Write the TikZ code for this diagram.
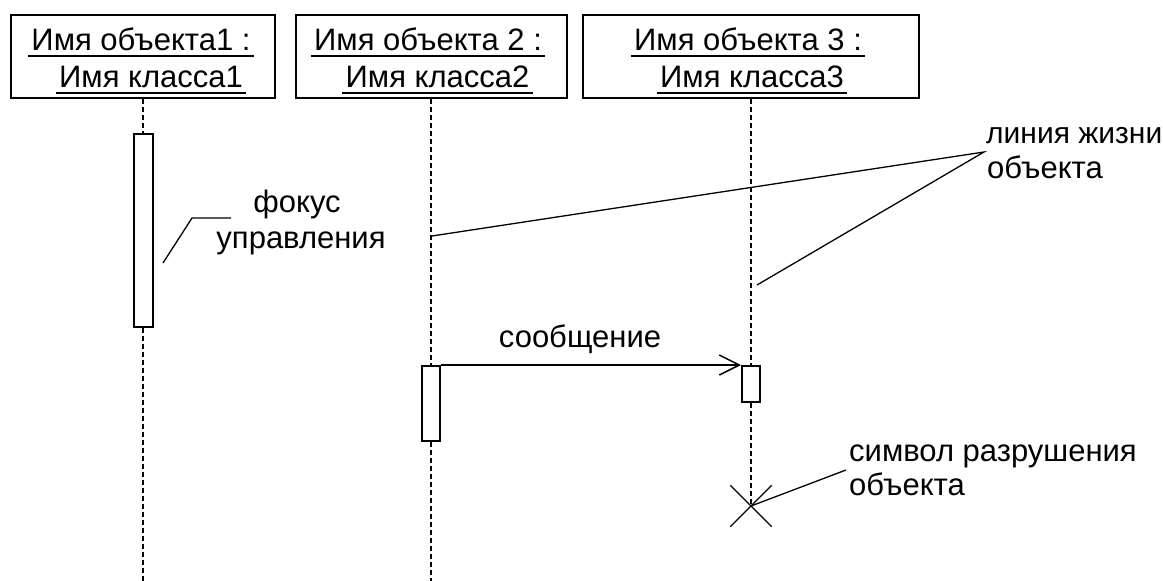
\documentclass[tikz,border=0pt]{standalone}
\usepackage{fontspec}
\setmainfont{Liberation Sans}
\usetikzlibrary{arrows.meta,shapes.misc}
\begin{document}
\begin{tikzpicture}[x=1pt,y=-1pt,
  objbox/.style={draw, line width=2pt, inner sep=0pt},
  txt/.style={inner sep=0pt, font=\fontsize{31}{36}\selectfont},
  utxt/.style={inner xsep=3pt, inner ysep=0pt, font=\fontsize{31}{36}\selectfont},
  ul/.style={line width=1.8pt},
  life/.style={line width=1.3pt, dash pattern=on 5pt off 3pt},
  actbar/.style={draw, fill=white, line width=2pt, inner sep=0pt},
  lead/.style={line width=1.3pt},
  msg/.style={line width=1.8pt, -{Straight Barb[length=20pt,width=20pt,line width=1.5pt]}},
  destroyx/.style={draw, cross out, line width=1.3pt, inner sep=0pt, minimum size=40pt}]
\useasboundingbox (0,0) rectangle (1163,581);
\fill[white] (0,0) rectangle (1163,581);

% object boxes
\node[objbox, minimum width=264pt, minimum height=83pt] (box1) at (143,56.5) {};
\node[objbox, minimum width=271pt, minimum height=83pt] (box2) at (431.5,56.5) {};
\node[objbox, minimum width=336pt, minimum height=83pt] (box3) at (751,56.5) {};

\node[utxt, anchor=base] (n1a) at (141,50) {Имя объекта1 :};
\node[utxt, anchor=base] (n1b) at (151,87) {Имя класса1};
\node[utxt, anchor=base] (n2a) at (428,50) {Имя объекта 2 :};
\node[utxt, anchor=base] (n2b) at (437.5,87) {Имя класса2};
\node[utxt, anchor=base] (n3a) at (748,50) {Имя объекта 3 :};
\node[utxt, anchor=base] (n3b) at (752,87) {Имя класса3};
\foreach \n in {n1a,n1b,n2a,n2b,n3a,n3b}
  \draw[ul] ([yshift=-6pt]\n.base west) -- ([yshift=-6pt]\n.base east);

% activation bars
\node[actbar, minimum width=19pt, minimum height=193pt] (act1) at (143,230.5) {};
\node[actbar, minimum width=18pt, minimum height=75pt] (act2) at (431,403.5) {};
\node[actbar, minimum width=18pt, minimum height=36pt] (act3) at (751,384) {};

% destruction symbol
\node[destroyx] (destroy) at (751,506) {};

% lifelines
\coordinate (end1) at (143,584);
\coordinate (end2) at (431,584);
\draw[life] (box1.south) -- (act1.north);
\draw[life] (act1.south) -- (end1);
\draw[life] (box2.south -| act2.north) -- (act2.north);
\draw[life] (act2.south) -- (end2);
\draw[life] (box3.south -| act3.north) -- (act3.north);
\draw[life] (act3.south) -- (destroy.center);

% message
\draw[msg] (act2.north east) -- (act3.north west);
\node[txt, anchor=base] (msglbl) at (580,347) {сообщение};

% focus annotation
\coordinate (fk0) at (163,263);
\coordinate (fk1) at (192,218);
\coordinate (fk2) at (231,218);
\draw[lead] (fk0) -- (fk1) -- (fk2);
\node[txt, anchor=base] (fokus1) at (297,212) {фокус};
\node[txt, anchor=base] (fokus2) at (301,248) {управления};

% lifeline annotation
\coordinate (ll2) at (432,236);
\coordinate (apex) at (984,152);
\coordinate (ll3) at (757,285);
\draw[lead] (ll2) -- (apex) -- (ll3);
\node[txt, anchor=base west, font=\fontsize{30}{36}\selectfont] (life1) at (986,143) {линия жизни};
\node[txt, anchor=base west] (life2) at (987,178) {объекта};

% destruction annotation
\coordinate (dl) at (846,470);
\draw[lead] (destroy.center) -- (dl);
\node[txt, anchor=base west] (destr1) at (849,461) {символ разрушения};
\node[txt, anchor=base west] (destr2) at (849,495) {объекта};
\end{tikzpicture}
\end{document}
